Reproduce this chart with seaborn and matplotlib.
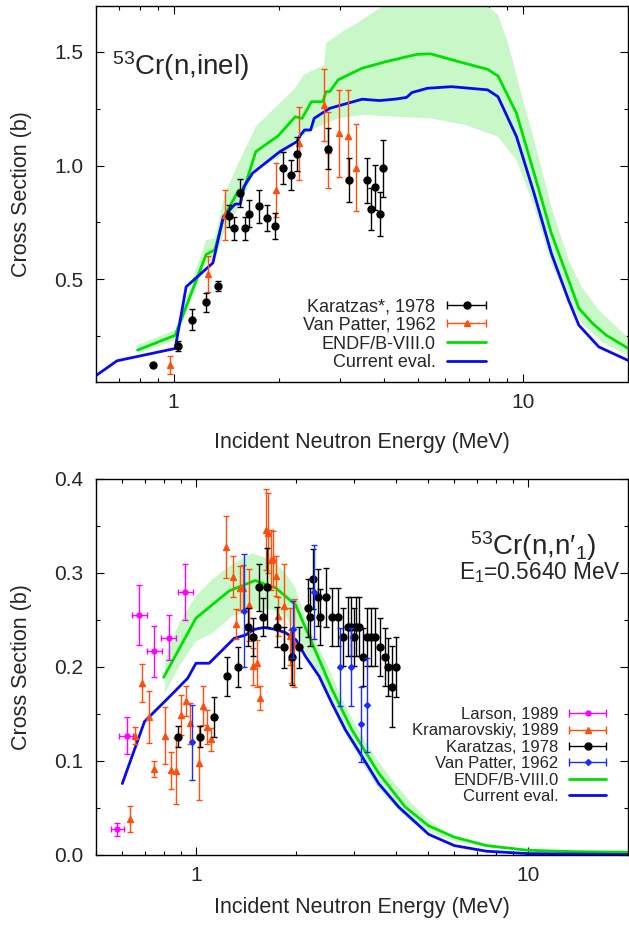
import numpy as np
import seaborn as sns
import matplotlib
matplotlib.use('Agg')
import matplotlib.pyplot as plt
from matplotlib.lines import Line2D
from matplotlib.container import ErrorbarContainer
from matplotlib.legend_handler import HandlerErrorbar
from matplotlib.ticker import FixedLocator, FixedFormatter, LogLocator, NullFormatter, MultipleLocator, FormatStrFormatter

# ---------------- top panel: 53Cr(n,inel) ----------------
inel_kar_e = [0.876, 1.028, 1.128, 1.238, 1.340, 1.440, 1.494, 1.545, 1.602, 1.650, 1.754, 1.852,
              1.954, 2.054, 2.164, 2.260, 2.763, 3.179, 3.584, 3.683, 3.784, 3.889, 3.987]
inel_kar_v = [0.124, 0.209, 0.324, 0.399, 0.472, 0.778, 0.725, 0.881, 0.725, 0.788, 0.821, 0.768,
              0.736, 0.990, 0.957, 1.052, 1.074, 0.935, 0.935, 0.809, 0.904, 0.788, 0.988]
inel_kar_err = [0.010, 0.022, 0.047, 0.040, 0.022, 0.050, 0.050, 0.062, 0.050, 0.059, 0.073, 0.057,
                0.057, 0.069, 0.066, 0.075, 0.089, 0.097, 0.100, 0.093, 0.098, 0.096, 0.124]

inel_vp_e = [0.977, 1.257, 1.408, 1.968, 2.281, 2.690, 2.776, 2.971, 3.165, 3.327]
inel_vp_v = [0.124, 0.523, 0.783, 0.892, 1.097, 1.266, 1.068, 1.141, 1.131, 0.990]
inel_vp_err = [0.038, 0.079, 0.111, 0.120, 0.160, 0.159, 0.168, 0.190, 0.200, 0.190]

inel_endf_e = [0.789, 1.011, 1.24, 1.312, 1.394, 1.537, 1.59, 1.72, 1.993, 2.231, 2.334, 2.482,
               2.673, 2.735, 2.799, 2.96, 3.467, 4.063, 4.98, 5.45, 6.54, 7.93, 8.49, 9.59,
               10.77, 12.07, 13.52, 14.47, 15.84, 17.3, 20.0]
inel_endf_v = [0.190, 0.255, 0.610, 0.629, 0.775, 0.892, 0.895, 1.061, 1.130, 1.214, 1.207, 1.280,
               1.280, 1.324, 1.324, 1.376, 1.427, 1.456, 1.488, 1.490, 1.456, 1.422, 1.393, 1.229,
               0.966, 0.702, 0.497, 0.373, 0.307, 0.256, 0.198]

inel_cur_e = [0.6, 0.689, 1.011, 1.087, 1.297, 1.388, 1.502, 1.554, 1.59, 1.683, 2.016, 2.258,
              2.30, 2.372, 2.47, 2.527, 2.799, 3.467, 3.89, 4.35, 4.65, 4.81, 5.33, 6.25, 7.93,
              8.49, 9.59, 10.77, 12.07, 13.52, 14.47, 16.5, 20.0]
inel_cur_v = [0.078, 0.143, 0.197, 0.468, 0.573, 0.775, 0.831, 0.831, 0.907, 0.966, 1.061, 1.105,
              1.130, 1.156, 1.156, 1.207, 1.251, 1.291, 1.285, 1.292, 1.299, 1.320, 1.339, 1.346,
              1.332, 1.302, 1.127, 0.878, 0.614, 0.409, 0.299, 0.204, 0.145]

inel_band_hi_e = [0.789, 1.011, 1.24, 1.312, 1.404, 1.502, 1.72, 2.231, 2.36, 2.70, 2.735, 2.995,
                  3.467, 3.97, 5.0, 6.5, 7.93, 8.49, 9.07, 9.83, 10.77, 12.07, 13.52, 14.74, 16.5, 20.0]
inel_band_hi_v = [0.212, 0.278, 0.673, 0.680, 0.878, 0.980, 1.171, 1.339, 1.398, 1.441, 1.537, 1.581,
                  1.639, 1.70, 1.76, 1.76, 1.70, 1.661, 1.537, 1.332, 1.112, 0.819, 0.585, 0.468,
                  0.365, 0.245]
inel_band_lo_e = [0.789, 1.011, 1.24, 1.312, 1.404, 1.502, 1.72, 2.016, 2.47, 2.96, 3.467, 4.35,
                  5.45, 6.83, 8.49, 9.59, 10.77, 12.07, 13.52, 14.74, 16.85, 20.0]
inel_band_lo_v = [0.175, 0.234, 0.570, 0.585, 0.717, 0.790, 0.980, 1.039, 1.156, 1.207, 1.222, 1.214,
                  1.207, 1.178, 1.127, 1.024, 0.819, 0.570, 0.409, 0.307, 0.226, 0.165]

# ---------------- bottom panel: 53Cr(n,n'1) ----------------
n1_lar_e = [0.58, 0.618, 0.675, 0.75, 0.83, 0.93]
n1_lar_v = [0.0273, 0.127, 0.255, 0.2165, 0.231, 0.2797]
n1_lar_err = [0.007, 0.020, 0.032, 0.027, 0.024, 0.030]
n1_lar_xerr = [0.027, 0.030, 0.035, 0.040, 0.043, 0.048]

n1_kra_e = [0.631, 0.657, 0.689, 0.721, 0.750, 0.809, 0.841, 0.871, 0.902, 0.933, 0.961, 1.023,
            1.052, 1.079, 1.109, 1.231, 1.291, 1.322, 1.354, 1.382, 1.442, 1.487, 1.53, 1.562,
            1.623, 1.653, 1.681, 1.709, 1.741, 1.763, 1.847, 1.914, 1.936, 1.969]
n1_kra_v = [0.038, 0.127, 0.183, 0.147, 0.092, 0.127, 0.090, 0.089, 0.149, 0.164, 0.140, 0.098,
            0.159, 0.1365, 0.123, 0.328, 0.296, 0.246, 0.284, 0.284, 0.266, 0.2006, 0.204, 0.167,
            0.346, 0.3426, 0.314, 0.315, 0.297, 0.254, 0.2645, 0.2325, 0.211, 0.2254]
n1_kra_err = [0.014, 0.009, 0.020, 0.028, 0.0085, 0.030, 0.020, 0.035, 0.021, 0.016, 0.022, 0.039,
              0.021, 0.018, 0.012, 0.033, 0.022, 0.016, 0.023, 0.025, 0.038, 0.020, 0.025, 0.013,
              0.043, 0.043, 0.032, 0.030, 0.021, 0.021, 0.045, 0.030, 0.028, 0.047]

n1_kar_e = [0.885, 1.029, 1.131, 1.243, 1.340, 1.435, 1.487, 1.548, 1.596, 1.642, 1.750, 1.847,
            1.946, 2.049, 2.17, 2.21, 2.25, 2.33, 2.37, 2.47, 2.57, 2.68, 2.77, 2.87, 2.94, 2.99,
            3.03, 3.10, 3.19, 3.28, 3.37, 3.47, 3.59, 3.70, 3.79, 3.89, 4.00]
n1_kar_v = [0.126, 0.126, 0.147, 0.190, 0.200, 0.2425, 0.232, 0.285, 0.253, 0.285, 0.2425, 0.221,
            0.2105, 0.221, 0.263, 0.2535, 0.294, 0.274, 0.2535, 0.274, 0.2535, 0.2535, 0.232, 0.243,
            0.243, 0.232, 0.243, 0.243, 0.211, 0.232, 0.232, 0.232, 0.2216, 0.211, 0.200, 0.179, 0.200]
n1_kar_err = [0.011, 0.011, 0.021, 0.021, 0.021, 0.020, 0.020, 0.025, 0.020, 0.042, 0.021, 0.022,
              0.030, 0.022, 0.031, 0.031, 0.032, 0.030, 0.030, 0.031, 0.031, 0.031, 0.031, 0.031,
              0.031, 0.031, 0.031, 0.031, 0.031, 0.031, 0.031, 0.031, 0.031, 0.031, 0.031, 0.043, 0.032]

n1_vp_e = [0.975, 1.397, 1.955, 2.26, 2.72, 2.92, 3.13, 3.28]
n1_vp_v = [0.120, 0.260, 0.240, 0.280, 0.200, 0.200, 0.139, 0.160]
n1_vp_err = [0.040, 0.060, 0.030, 0.050, 0.042, 0.042, 0.040, 0.050]

n1_endf_e = [0.799, 1.0, 1.259, 1.507, 1.74, 1.996, 2.24, 2.57, 2.95, 3.55, 4.27, 5.02, 6.0, 7.5,
             10.0, 14.0, 20.0]
n1_endf_v = [0.189, 0.252, 0.281, 0.292, 0.284, 0.266, 0.225, 0.176, 0.133, 0.087, 0.051, 0.031,
             0.019, 0.010, 0.005, 0.0035, 0.003]

n1_cur_e = [0.60, 0.70, 0.841, 0.944, 1.0, 1.096, 1.303, 1.41, 1.497, 1.60, 1.74, 1.86, 2.0, 2.14,
            2.35, 2.57, 2.82, 3.16, 3.55, 4.08, 5.02, 6.0, 7.5, 10.0, 20.0]
n1_cur_v = [0.076, 0.142, 0.170, 0.188, 0.204, 0.204, 0.2305, 0.234, 0.240, 0.242, 0.240, 0.2365,
            0.229, 0.211, 0.190, 0.161, 0.133, 0.105, 0.076, 0.051, 0.022, 0.010, 0.004, 0.0015, 0.0005]

n1_band_hi_e = [0.806, 0.888, 0.997, 1.118, 1.284, 1.474, 1.693, 1.856, 1.989, 2.18, 2.45, 2.74,
                3.08, 3.46, 3.89, 4.46, 4.89, 5.48, 6.15, 7.75, 9.76, 20.0]
n1_band_hi_v = [0.207, 0.246, 0.275, 0.293, 0.309, 0.321, 0.314, 0.300, 0.285, 0.243, 0.207, 0.168,
                0.133, 0.105, 0.080, 0.055, 0.041, 0.027, 0.018, 0.009, 0.006, 0.0035]
n1_band_lo_e = [0.806, 0.888, 0.997, 1.118, 1.284, 1.474, 1.693, 1.856, 1.989, 2.13, 2.45, 2.74,
                3.08, 3.46, 3.89, 4.46, 4.89, 5.48, 6.15, 7.75, 9.76, 20.0]
n1_band_lo_v = [0.172, 0.200, 0.227, 0.236, 0.254, 0.261, 0.261, 0.254, 0.239, 0.218, 0.176, 0.137,
                0.105, 0.076, 0.055, 0.035, 0.027, 0.0195, 0.014, 0.008, 0.005, 0.0025]

GREEN = '#00e000'
BAND = '#c8f7c8'
BLUE = '#0a0aee'
ORANGE = '#ff4f0f'
MAGENTA = '#ff00ff'
VPBLUE = '#1a2cff'

sns.set_style('ticks')
plt.rcParams['font.family'] = ['Liberation Sans', 'DejaVu Sans']
plt.rcParams['mathtext.fontset'] = 'custom'
plt.rcParams['mathtext.rm'] = 'Liberation Sans'
plt.rcParams['mathtext.it'] = 'Liberation Sans:italic'
plt.rcParams['mathtext.bf'] = 'Liberation Sans:bold'


def style_axes(ax, xlim, ylim, ymajor, yminor, xlab_y):
    ax.set_xscale('log')
    ax.set_xlim(*xlim)
    ax.set_ylim(*ylim)
    ax.xaxis.set_major_locator(FixedLocator([1, 10]))
    ax.xaxis.set_major_formatter(FixedFormatter(['1', '10']))
    ax.xaxis.set_minor_locator(LogLocator(base=10, subs=np.arange(2, 10)))
    ax.xaxis.set_minor_formatter(NullFormatter())
    ax.yaxis.set_major_locator(MultipleLocator(ymajor))
    ax.yaxis.set_minor_locator(MultipleLocator(yminor))
    ax.yaxis.set_major_formatter(FormatStrFormatter('%.1f'))
    ax.tick_params(which='both', direction='in', top=True, right=True, labelsize=15,
                   color='black', width=0.8)
    ax.tick_params(axis='x', which='major', pad=8)
    ax.tick_params(axis='y', which='major', pad=9)
    ax.tick_params(which='major', length=6)
    ax.tick_params(which='minor', length=3)
    for s in ax.spines.values():
        s.set_color('black')
        s.set_linewidth(1.0)
    ax.set_xlabel('Incident Neutron Energy (MeV)', fontsize=15.5)
    ax.set_ylabel('Cross Section (b)', fontsize=15.5)
    ax.xaxis.set_label_coords(0.5, xlab_y)
    ax.yaxis.set_label_coords(-0.12, 0.5)


def err_proxy(ax, **kw):
    # empty errorbar, only for a gnuplot style horizontal key sample
    return ax.errorbar([np.nan], [np.nan], xerr=[np.nan], capsize=3, elinewidth=1.0, capthick=1.0, **kw)


fig = plt.figure(figsize=(6.29, 9.27), dpi=100)
ax1 = fig.add_axes([96 / 629, 1 - 382 / 927, 532 / 629, 376 / 927])
ax2 = fig.add_axes([96 / 629, 1 - 855 / 927, 532 / 629, 376 / 927])

style_axes(ax1, (0.6, 20), (0.05, 1.7), 0.5, 0.25, -0.132)
style_axes(ax2, (0.5, 20), (0.0, 0.4), 0.1, 0.05, -0.112)

# ---- top panel
ax1.fill(np.r_[inel_band_hi_e, inel_band_lo_e[::-1]], np.r_[inel_band_hi_v, inel_band_lo_v[::-1]],
         color=BAND, lw=0, zorder=1)
sns.lineplot(x=inel_endf_e, y=inel_endf_v, ax=ax1, color=GREEN, lw=2, estimator=None, sort=False, zorder=2)
sns.lineplot(x=inel_cur_e, y=inel_cur_v, ax=ax1, color=BLUE, lw=2, estimator=None, sort=False, zorder=2)
ax1.errorbar(inel_vp_e, inel_vp_v, yerr=inel_vp_err, fmt='^', color=ORANGE, ms=4, elinewidth=1,
             capsize=2.5, capthick=1, zorder=3)
ax1.errorbar(inel_kar_e, inel_kar_v, yerr=inel_kar_err, fmt='o', color='black', ms=5, elinewidth=1,
             capsize=2.5, capthick=1, zorder=4)

h1 = [err_proxy(ax1, fmt='o', color='black', ms=5),
      err_proxy(ax1, fmt='^', color=ORANGE, ms=4),
      Line2D([], [], color=GREEN, lw=2),
      Line2D([], [], color=BLUE, lw=2)]
l1 = ['Karatzas*, 1978', 'Van Patter, 1962', 'ENDF/B-VIII.0', 'Current eval.']
ax1.legend(h1, l1, loc='upper right', bbox_to_anchor=(486 / 629, 1 - 298 / 927),
           bbox_transform=fig.transFigure, frameon=False, markerfirst=False, fontsize=13,
           handlelength=2.15, handletextpad=0.65, labelspacing=0.1, borderpad=0, borderaxespad=0,
           handler_map={ErrorbarContainer: HandlerErrorbar(xerr_size=1.075)})

ax1.text((112 - 96) / 532, (382 - 75) / 376, r'$^{53}$Cr(n,inel)', transform=ax1.transAxes,
         fontsize=20, ha='left', va='baseline')

# ---- bottom panel
ax2.fill(np.r_[n1_band_hi_e, n1_band_lo_e[::-1]], np.r_[n1_band_hi_v, n1_band_lo_v[::-1]],
         color=BAND, lw=0, zorder=1)
sns.lineplot(x=n1_endf_e, y=n1_endf_v, ax=ax2, color=GREEN, lw=2, estimator=None, sort=False, zorder=2)
sns.lineplot(x=n1_cur_e, y=n1_cur_v, ax=ax2, color=BLUE, lw=2, estimator=None, sort=False, zorder=2)
ax2.errorbar(n1_kra_e, n1_kra_v, yerr=n1_kra_err, fmt='^', color=ORANGE, ms=4, elinewidth=1,
             capsize=2.5, capthick=1, zorder=3)
ax2.errorbar(n1_kar_e, n1_kar_v, yerr=n1_kar_err, fmt='o', color='black', ms=5, elinewidth=1,
             capsize=2.5, capthick=1, zorder=4)
ax2.errorbar(n1_vp_e, n1_vp_v, yerr=n1_vp_err, fmt='D', color=VPBLUE, ms=3, elinewidth=1,
             capsize=2.5, capthick=1, zorder=5)
ax2.errorbar(n1_lar_e, n1_lar_v, yerr=n1_lar_err, xerr=n1_lar_xerr, fmt='o', color=MAGENTA, ms=3.5,
             elinewidth=1, capsize=2.5, capthick=1, zorder=5)

h2 = [err_proxy(ax2, fmt='o', color=MAGENTA, ms=3.5),
      err_proxy(ax2, fmt='^', color=ORANGE, ms=4),
      err_proxy(ax2, fmt='o', color='black', ms=5),
      err_proxy(ax2, fmt='D', color=VPBLUE, ms=3),
      Line2D([], [], color=GREEN, lw=2),
      Line2D([], [], color=BLUE, lw=2)]
l2 = ['Larson, 1989', 'Kramarovskiy, 1989', 'Karatzas, 1978', 'Van Patter, 1962',
      'ENDF/B-VIII.0', 'Current eval.']
ax2.legend(h2, l2, loc='upper right', bbox_to_anchor=(606 / 629, 1 - 707 / 927),
           bbox_transform=fig.transFigure, frameon=False, markerfirst=False, fontsize=12,
           handlelength=2.2, handletextpad=0.65, labelspacing=0.085, borderpad=0, borderaxespad=0,
           handler_map={ErrorbarContainer: HandlerErrorbar(xerr_size=1.1)})

ax2.text((470 - 96) / 532, (855 - 555) / 376, "$^{53}$Cr(n,n\u2032$_1$)", transform=ax2.transAxes,
         fontsize=20, ha='left', va='baseline')
ax2.text((459 - 96) / 532, (855 - 579) / 376, 'E$_1$=0.5640 MeV', transform=ax2.transAxes,
         fontsize=16.3, ha='left', va='baseline')

fig.savefig('out.png', dpi=100)
